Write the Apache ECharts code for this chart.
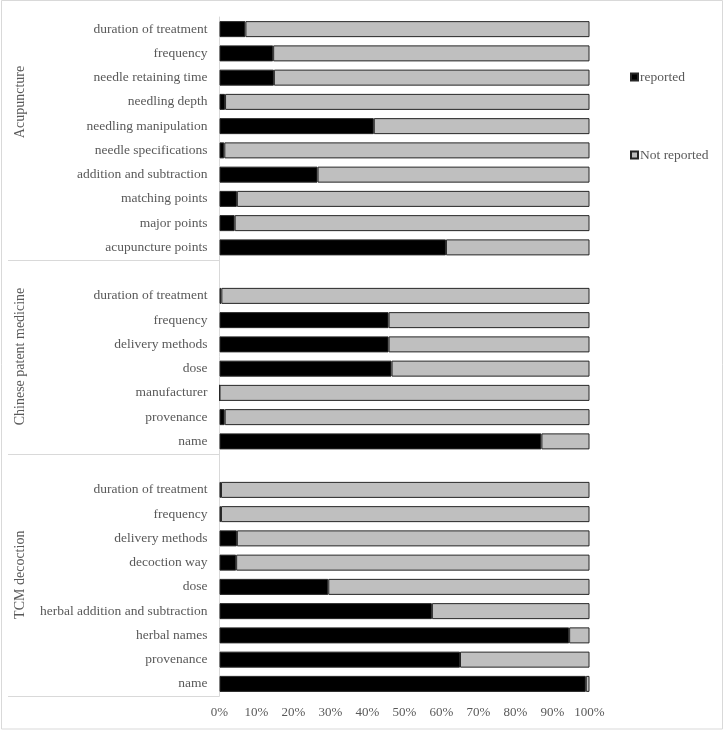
<!DOCTYPE html>
<html><head><meta charset="utf-8">
<script src="https://cdn.jsdelivr.net/npm/echarts@6/dist/echarts.min.js"></script>
<style>html,body{margin:0;padding:0;background:#fff}#c{width:725px;height:731px}</style>
</head><body><div id="c"></div>
<script>
const groups = ['Acupuncture', 'Chinese patent medicine', 'TCM decoction'];
const acuItems = ['duration of treatment','frequency','needle retaining time','needling depth','needling manipulation','needle specifications','addition and subtraction','matching points','major points','acupuncture points'];
const acuReported = [7, 14.5, 14.7, 1.5, 41.7, 1.3, 26.5, 4.7, 4.1, 61.2];
const acuNotReported = [93, 85.5, 85.3, 98.5, 58.3, 98.7, 73.5, 95.3, 95.9, 38.8];
const cpmItems = ['duration of treatment','frequency','delivery methods','dose','manufacturer','provenance','name'];
const cpmReported = [0.5, 45.7, 45.7, 46.5, 0, 1.4, 87];
const cpmNotReported = [99.5, 54.3, 54.3, 53.5, 100, 98.6, 13];
const tcmItems = ['duration of treatment','frequency','delivery methods','decoction way','dose','herbal addition and subtraction','herbal names','provenance','name'];
const tcmReported = [0.4, 0.4, 4.7, 4.5, 29.4, 57.4, 94.5, 65, 99];
const tcmNotReported = [99.6, 99.6, 95.3, 95.5, 70.6, 42.6, 5.5, 35, 1];
const seriesNames = ['reported', 'Not reported'];
const xTickLabels = ['0%','10%','20%','30%','40%','50%','60%','70%','80%','90%','100%'];

const categories = [...acuItems, '', ...cpmItems, '', ...tcmItems];
const reported = [...acuReported, '-', ...cpmReported, '-', ...tcmReported];
const notReported = [...acuNotReported, '-', ...cpmNotReported, '-', ...tcmNotReported];

const FONT = '"Liberation Serif", "Times New Roman", serif';
const TXT = '#595959';
const LINE = '#d9d9d9';

const chart = echarts.init(document.getElementById('c'), null, {renderer: 'canvas'});
chart.setOption({
  animation: false,
  backgroundColor: '#fff',
  grid: {left: 219.5, right: 135.5, top: 17, bottom: 35, containLabel: false},
  legend: {
    orient: 'vertical', left: 625, top: 65,
    itemWidth: 7, itemHeight: 7, itemGap: 64,
    icon: 'rect',
    textStyle: {fontFamily: FONT, fontSize: 13.5, color: TXT, padding: [0, 0, 0, -3]},
    data: seriesNames
  },
  xAxis: {
    type: 'value', min: 0, max: 100, interval: 10,
    axisLine: {show: false}, axisTick: {show: false}, splitLine: {show: false},
    axisLabel: {fontFamily: FONT, fontSize: 13, color: TXT, margin: 10,
      formatter: v => xTickLabels[Math.round(v / 10)]}
  },
  yAxis: {
    type: 'category', inverse: true, data: categories,
    axisLine: {show: true, lineStyle: {color: LINE, width: 1}},
    axisTick: {show: false},
    axisLabel: {fontFamily: FONT, fontSize: 13.5, color: TXT, margin: 12}
  },
  series: [
    {name: seriesNames[0], type: 'bar', stack: 'a', barWidth: 16, data: reported,
     itemStyle: {color: '#000000', borderColor: '#262626', borderWidth: 1}},
    {name: seriesNames[1], type: 'bar', stack: 'a', barWidth: 16, data: notReported,
     itemStyle: {color: '#bfbfbf', borderColor: '#262626', borderWidth: 1}}
  ]
});

function yOf(i) { return chart.convertToPixel({yAxisIndex: 0}, i); }
const step = yOf(1) - yOf(0);
const sep1 = (yOf(acuItems.length - 1) + yOf(acuItems.length)) / 2;
const sep2 = (yOf(acuItems.length + cpmItems.length) + yOf(acuItems.length + cpmItems.length + 1)) / 2;
const bottomY = yOf(categories.length - 1) + step / 2;
const leftX = chart.convertToPixel({xAxisIndex: 0}, 0);

function groupLabel(text, cy) {
  return {type: 'text', x: 20, y: cy, rotation: Math.PI / 2,
    style: {text: text, fontFamily: FONT, fontSize: 14, fill: TXT, align: 'center', verticalAlign: 'middle'}};
}
chart.setOption({
  graphic: [
    {type: 'rect', shape: {x: 1.5, y: 0.5, width: 721, height: 728.5}, style: {fill: null, stroke: LINE, lineWidth: 1}, silent: true},
    {type: 'line', shape: {x1: 8, y1: Math.round(sep1) + 0.5, x2: leftX, y2: Math.round(sep1) + 0.5}, style: {stroke: LINE, lineWidth: 1}},
    {type: 'line', shape: {x1: 8, y1: Math.round(sep2) + 0.5, x2: leftX, y2: Math.round(sep2) + 0.5}, style: {stroke: LINE, lineWidth: 1}},
    {type: 'line', shape: {x1: 8, y1: Math.round(bottomY) + 0.5, x2: leftX, y2: Math.round(bottomY) + 0.5}, style: {stroke: LINE, lineWidth: 1}},
    groupLabel(groups[0], 102),
    groupLabel(groups[1], (sep1 + sep2) / 2),
    groupLabel(groups[2], (sep2 + bottomY) / 2)
  ]
});
</script></body></html>
